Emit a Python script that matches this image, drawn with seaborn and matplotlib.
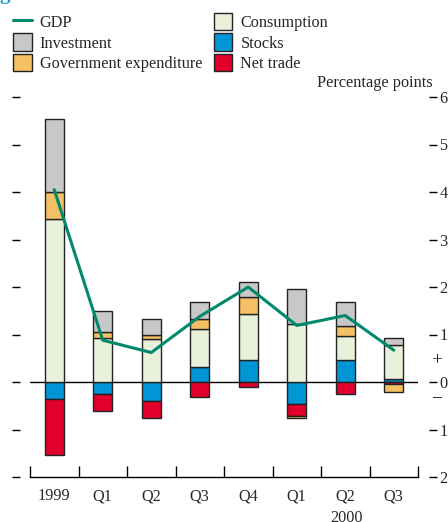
import numpy as np
import pandas as pd
import seaborn as sns
import matplotlib.pyplot as plt
from matplotlib.patches import Patch
from matplotlib.lines import Line2D

# Data (percentage point contributions to GDP growth)
periods = ["1999", "Q1", "Q2", "Q3", "Q4", "Q1 ", "Q2 ", "Q3 "]
tick_labels = ["1999", "Q1", "Q2", "Q3", "Q4", "Q1", "Q2", "Q3"]
stocks = [-0.36, -0.26, -0.41, 0.31, 0.46, -0.46, 0.46, 0.06]
consumption = [3.43, 0.92, 0.91, 0.80, 0.97, 1.22, 0.51, 0.71]
net_trade = [-1.18, -0.35, -0.35, -0.31, -0.11, -0.25, -0.25, -0.04]
government = [0.57, 0.14, 0.07, 0.22, 0.36, -0.05, 0.20, -0.16]
investment = [1.54, 0.43, 0.35, 0.36, 0.31, 0.74, 0.52, 0.16]
gdp = [4.05, 0.88, 0.62, 1.38, 2.0, 1.19, 1.40, 0.67]

colors = {
    "Stocks": "#0096d6",
    "Consumption": "#e9f1da",
    "Net trade": "#e0002b",
    "Government expenditure": "#f6c064",
    "Investment": "#c8c8c8",
}
gdp_color = "#00896b"
fs = 11.7

sns.set_theme(style="white")
plt.rcParams['font.family'] = ['Liberation Serif', 'DejaVu Serif']

fig = plt.figure(figsize=(4.48, 5.22), dpi=100)
ax = fig.add_axes([30 / 448, 1 - 477 / 522, 388 / 448, 380 / 522])

x = np.arange(len(periods))
layers = [("Stocks", stocks), ("Consumption", consumption), ("Net trade", net_trade),
          ("Government expenditure", government), ("Investment", investment)]
pos_base = np.zeros(len(x))
neg_base = np.zeros(len(x))
for name, vals in layers:
    vals = np.array(vals)
    bottom = np.where(vals >= 0, pos_base, neg_base)
    ax.bar(x, vals, width=0.4, bottom=bottom, color=colors[name],
           edgecolor="#222222", linewidth=1.0, zorder=2)
    pos_base = pos_base + np.where(vals >= 0, vals, 0)
    neg_base = neg_base + np.where(vals < 0, vals, 0)

df = pd.DataFrame({"x": x, "gdp": gdp})
sns.lineplot(data=df, x="x", y="gdp", ax=ax, color=gdp_color, linewidth=2.2, zorder=3)

ax.axhline(0, color="black", linewidth=1.0, zorder=1)

ax.set_xlim(-0.5, 7.5)
ax.set_ylim(-2, 6)
ax.set_xlabel("")
ax.set_ylabel("")

# spines
ax.spines['top'].set_visible(False)
ax.spines['left'].set_visible(False)
ax.spines['right'].set_visible(False)
ax.spines['left'].set_position(('outward', 7))
ax.spines['right'].set_position(('outward', 8))
ax.spines['bottom'].set_color("black")
ax.spines['bottom'].set_linewidth(1.0)

# x ticks
ax.set_xticks(x)
ax.set_xticklabels(tick_labels, fontsize=fs)
ax.set_xticks(np.arange(-0.5, 8, 1), minor=True)
ax.tick_params(axis='x', which='major', length=0, pad=8)
ax.tick_params(axis='x', which='minor', direction='in', length=8, width=1.0, color="black", bottom=True)

# y ticks on both sides
yt = np.arange(-2, 7, 1)
ax.set_yticks(yt)
ax.set_yticklabels([str(abs(v)) for v in yt])
ax.tick_params(axis='y', which='major', left=True, right=True, labelleft=False, labelright=True,
               direction='out', length=6, width=1.0, color="black", labelsize=fs, pad=1.5)

# annotations
fig.text(437 / 448, 1 - 361 / 522, "+", fontsize=14, ha='center', va='center')
fig.text(437 / 448, 1 - 400 / 522, "\u2212", fontsize=14, ha='center', va='center')
fig.text(433 / 448, 1 - 83 / 522, "Percentage points", fontsize=fs, ha='right', va='center')
fig.text(346 / 448, 1 - 518 / 522, "2000", fontsize=fs, ha='center', va='center')
fig.text(0.0, 1 + 1 / 522, "growth", fontsize=15, fontweight='bold', color="#1a9ad6",
         ha='left', va='baseline')

# legend
handles = [
    Line2D([0], [0], color=gdp_color, linewidth=2.2),
    Patch(facecolor=colors["Investment"], edgecolor="#222222"),
    Patch(facecolor=colors["Government expenditure"], edgecolor="#222222"),
    Patch(facecolor=colors["Consumption"], edgecolor="#222222"),
    Patch(facecolor=colors["Stocks"], edgecolor="#222222"),
    Patch(facecolor=colors["Net trade"], edgecolor="#222222"),
]
labels = ["GDP", "Investment", "Government expenditure", "Consumption", "Stocks", "Net trade"]
fig.legend(handles, labels, ncol=2, loc='upper left', bbox_to_anchor=(13 / 448, 1 - 13 / 522),
           frameon=False, fontsize=fs, handlelength=1.15, handleheight=1.25, handletextpad=0.5,
           labelspacing=0.15, columnspacing=0.7, borderpad=0, borderaxespad=0)

fig.savefig("out.png", dpi=100)
